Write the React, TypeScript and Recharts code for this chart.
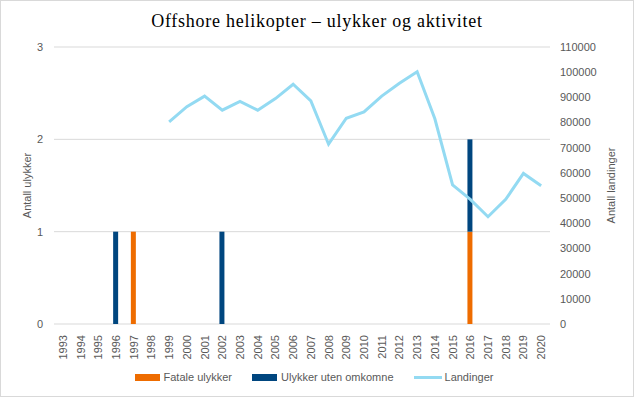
import React from 'react';
import {
  ComposedChart,
  Bar,
  Line,
  XAxis,
  YAxis,
  CartesianGrid,
  Legend,
} from 'recharts';

// Years on the category axis
const years = [
  '1993', '1994', '1995', '1996', '1997', '1998', '1999', '2000', '2001', '2002',
  '2003', '2004', '2005', '2006', '2007', '2008', '2009', '2010', '2011', '2012',
  '2013', '2014', '2015', '2016', '2017', '2018', '2019', '2020',
];

// Accidents (left axis)
const fatale = [0, 0, 0, 0, 1, 0, 0, 0, 0, 0, 0, 0, 0, 0, 0, 0, 0, 0, 0, 0, 0, 0, 0, 1, 0, 0, 0, 0];
const utenOmkomne = [0, 0, 0, 1, 0, 0, 0, 0, 0, 1, 0, 0, 0, 0, 0, 0, 0, 0, 0, 0, 0, 0, 0, 1, 0, 0, 0, 0];

// Landings (right axis), no data before 1999
const landinger = [
  null, null, null, null, null, null, 80300, 86300, 90500, 84900,
  88400, 84900, 89500, 95200, 88600, 71400, 81700, 84200, 90500, 95600,
  100200, 81500, 55200, 49500, 42600, 49500, 59800, 54900,
];

const leftTicks = [0, 1, 2, 3];
const rightTicks = [0, 10000, 20000, 30000, 40000, 50000, 60000, 70000, 80000, 90000, 100000, 110000];

const data = years.map((year, i) => ({
  year,
  fatale: fatale[i],
  utenOmkomne: utenOmkomne[i],
  landinger: landinger[i],
}));

const FONT = '"Liberation Sans", Arial, sans-serif';
const TEXT = '#595959';

const YearTick = (props: any) => {
  const { x, y, payload } = props;
  return (
    <text
      x={x}
      y={y}
      transform={`rotate(-90, ${x}, ${y})`}
      dx={-3}
      dy={4}
      textAnchor="end"
      fill={TEXT}
      fontSize={11}
      fontFamily={FONT}
    >
      {payload.value}
    </text>
  );
};

// axis title drawn centred on the axis box
const axisTitle = (value: string, dxFromLeft: number) => (props: any) => {
  const { viewBox } = props;
  const x = viewBox.x + dxFromLeft;
  const y = viewBox.y + viewBox.height / 2;
  return (
    <text
      x={x}
      y={y}
      transform={`rotate(-90, ${x}, ${y})`}
      textAnchor="middle"
      dominantBaseline="central"
      fill={TEXT}
      fontSize={11}
      fontFamily={FONT}
    >
      {value}
    </text>
  );
};

const legendItems = [
  { label: 'Fatale ulykker', color: '#EE6C00', kind: 'rect' },
  { label: 'Ulykker uten omkomne', color: '#00467F', kind: 'rect' },
  { label: 'Landinger', color: '#93DAF2', kind: 'line' },
];

const LegendContent = () => (
  <div
    style={{
      display: 'flex',
      justifyContent: 'center',
      alignItems: 'center',
      fontFamily: FONT,
      fontSize: 11,
      color: TEXT,
      marginTop: 7,
      paddingRight: 6,
    }}
  >
    {legendItems.map((it) => (
      <div key={it.label} style={{ display: 'flex', alignItems: 'center', marginLeft: 10, marginRight: 10 }}>
        {it.kind === 'rect' ? (
          <span style={{ display: 'inline-block', width: 25, height: 7, background: it.color, marginRight: 4 }} />
        ) : (
          <span style={{ display: 'inline-block', width: 28, height: 3, background: it.color, marginRight: 3 }} />
        )}
        <span>{it.label}</span>
      </div>
    ))}
  </div>
);

export default function App() {
  return (
    <div
      style={{
        position: 'absolute',
        left: 0,
        top: 0,
        width: 634,
        height: 397,
        background: '#fff',
        border: '1px solid #d9d9d9',
        boxSizing: 'border-box',
      }}
    >
      <div
        style={{
          position: 'absolute',
          left: 0,
          width: 632,
          top: 10,
          textAlign: 'center',
          fontFamily: '"Liberation Serif", serif',
          fontSize: 18,
          letterSpacing: 0.75,
          color: '#000',
        }}
      >
        Offshore helikopter – ulykker og aktivitet
      </div>
      <div style={{ position: 'absolute', left: -1, top: -1 }}>
        <ComposedChart
          width={634}
          height={397}
          data={data}
          margin={{ top: 47, right: 0, bottom: 0, left: 0 }}
          barSize={5}
          barGap={0}
        >
          <CartesianGrid vertical={false} stroke="#d9d9d9" yAxisId="left" />
          <XAxis
            dataKey="year"
            tick={<YearTick />}
            tickLine={false}
            axisLine={false}
            height={40}
            interval={0}
          />
          <YAxis
            yAxisId="left"
            domain={[0, 3]}
            ticks={leftTicks}
            width={54}
            tickLine={false}
            axisLine={false}
            tickSize={0}
            tickMargin={11}
            tick={{ fill: TEXT, fontSize: 11, fontFamily: FONT }}
            label={axisTitle('Antall ulykker', 27)}
          />
          <YAxis
            yAxisId="right"
            orientation="right"
            domain={[0, 110000]}
            ticks={rightTicks}
            width={84}
            tickLine={false}
            axisLine={false}
            tickSize={0}
            tickMargin={10}
            tick={{ fill: TEXT, fontSize: 11, fontFamily: FONT }}
            label={axisTitle('Antall landinger', 61)}
          />
          <Legend verticalAlign="bottom" height={33} content={<LegendContent />} />
          <Line
            yAxisId="right"
            dataKey="landinger"
            stroke="#93DAF2"
            strokeWidth={3}
            dot={false}
            type="linear"
            isAnimationActive={false}
          />
          <Bar yAxisId="left" dataKey="fatale" stackId="a" fill="#EE6C00" isAnimationActive={false} />
          <Bar yAxisId="left" dataKey="utenOmkomne" stackId="a" fill="#00467F" isAnimationActive={false} />
        </ComposedChart>
      </div>
    </div>
  );
}
